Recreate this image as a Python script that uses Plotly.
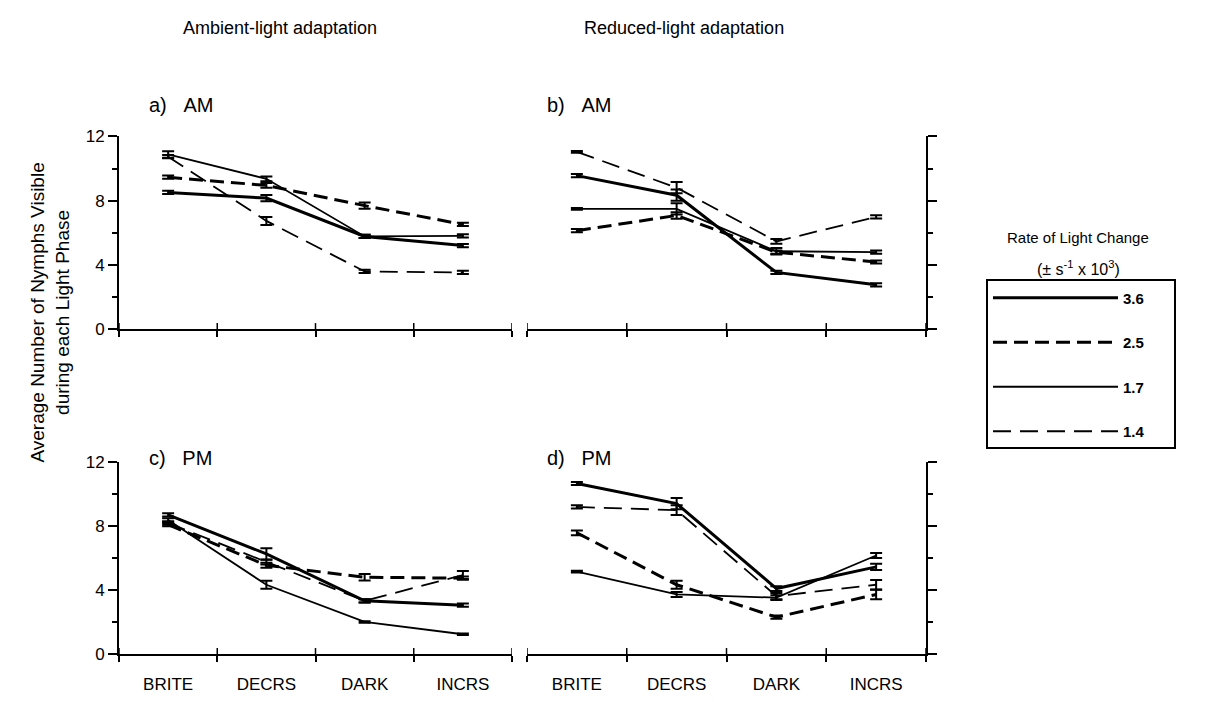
import plotly.graph_objects as go

W, H = 1205, 702
FONT = "Liberation Sans, Arial, Helvetica, sans-serif"

phases = ["BRITE", "DECRS", "DARK", "INCRS"]
rates = ["3.6", "2.5", "1.7", "1.4"]

# panel a) ambient-light, AM
a_36 = [8.51, 8.16, 5.77, 5.20]
a_25 = [9.46, 8.95, 7.69, 6.52]
a_17 = [10.88, 9.36, 5.77, 5.81]
a_14 = [10.74, 6.74, 3.59, 3.53]
a_36_err = [0.10, 0.20, 0.10, 0.10]
a_25_err = [0.10, 0.15, 0.20, 0.10]
a_17_err = [0.20, 0.15, 0.10, 0.10]
a_14_err = [0.10, 0.25, 0.10, 0.10]

# panel b) reduced-light, AM
b_36 = [9.56, 8.34, 3.53, 2.76]
b_25 = [6.13, 7.08, 4.79, 4.18]
b_17 = [7.49, 7.49, 4.85, 4.79]
b_14 = [11.04, 8.81, 5.46, 6.99]
b_36_err = [0.10, 0.35, 0.10, 0.10]
b_25_err = [0.10, 0.20, 0.10, 0.10]
b_17_err = [0.05, 0.35, 0.20, 0.10]
b_14_err = [0.05, 0.35, 0.15, 0.10]

# panel c) ambient-light, PM
c_36 = [8.71, 6.27, 3.33, 3.06]
c_25 = [8.10, 5.56, 4.81, 4.75]
c_17 = [8.40, 4.34, 2.01, 1.24]
c_14 = [8.20, 5.75, 3.33, 4.95]
c_36_err = [0.10, 0.35, 0.10, 0.10]
c_25_err = [0.10, 0.15, 0.20, 0.10]
c_17_err = [0.10, 0.25, 0.05, 0.05]
c_14_err = [0.10, 0.15, 0.10, 0.25]

# panel d) reduced-light, PM
d_36 = [10.68, 9.42, 4.10, 5.46]
d_25 = [7.59, 4.34, 2.31, 3.73]
d_17 = [5.16, 3.73, 3.53, 6.17]
d_14 = [9.21, 9.01, 3.63, 4.34]
d_36_err = [0.10, 0.35, 0.15, 0.20]
d_25_err = [0.15, 0.25, 0.10, 0.30]
d_17_err = [0.05, 0.15, 0.15, 0.15]
d_14_err = [0.10, 0.30, 0.20, 0.30]

panels = [
    ("a)", "AM", [a_36, a_25, a_17, a_14], [a_36_err, a_25_err, a_17_err, a_14_err]),
    ("b)", "AM", [b_36, b_25, b_17, b_14], [b_36_err, b_25_err, b_17_err, b_14_err]),
    ("c)", "PM", [c_36, c_25, c_17, c_14], [c_36_err, c_25_err, c_17_err, c_14_err]),
    ("d)", "PM", [d_36, d_25, d_17, d_14], [d_36_err, d_25_err, d_17_err, d_14_err]),
]

line_styles = {
    "3.6": dict(width=3.0, dash="solid"),
    "2.5": dict(width=3.0, dash="14px,7px"),
    "1.7": dict(width=1.8, dash="solid"),
    "1.4": dict(width=1.8, dash="18px,9px"),
}

fig = go.Figure()
axis_ids = ["", "2", "3", "4"]
for pi, (lab, tod, series, errs) in enumerate(panels):
    ax = axis_ids[pi]
    for ri, rate in enumerate(rates):
        fig.add_trace(go.Scatter(
            x=phases, y=series[ri],
            xaxis="x" + ax, yaxis="y" + ax,
            mode="lines",
            line=dict(color="black", **line_styles[rate]),
            error_y=dict(type="data", array=errs[ri], visible=True,
                         color="black", thickness=2, width=6),
            name="<b>" + rate + "</b>&nbsp;&nbsp;&nbsp;&nbsp;&nbsp;&nbsp;",
            legendgroup=rate,
            showlegend=(pi == 0),
            hoverinfo="skip",
        ))

# geometry (pixels)
xl = [119, 512]
xr = [527, 926]
yt = [131, 329]
yb = [466, 663]


def px_x(p):
    return p / W


def px_y(p):
    return 1 - p / H


def xaxis_cfg(dom, anchor, labels):
    return dict(domain=[px_x(dom[0]), px_x(dom[1])], anchor=anchor,
                type="category", range=[-0.5, 3.5],
                showline=True, linecolor="black", linewidth=2,
                ticks="outside", tickson="boundaries", ticklen=6,
                tickwidth=1.5, tickcolor="black",
                showgrid=False, zeroline=False,
                showticklabels=labels, ticklabelstandoff=14,
                tickfont=dict(family=FONT, size=17, color="black"))


def yaxis_cfg(dom, anchor, side, labels):
    return dict(domain=[px_y(dom[1]), px_y(dom[0])], anchor=anchor,
                range=[0, 12], side=side,
                showline=True, linecolor="black", linewidth=2,
                ticks="outside", ticklen=9, tickwidth=1.5, tickcolor="black",
                tickvals=[0, 4, 8, 12],
                minor=dict(ticks="outside", ticklen=5, tickwidth=1.5,
                           tickcolor="black", dtick=2, tick0=0, showgrid=False),
                showgrid=False, zeroline=False,
                showticklabels=labels,
                tickfont=dict(family=FONT, size=17, color="black"))


fig.update_layout(
    xaxis=xaxis_cfg(xl, "y", False),
    yaxis=yaxis_cfg(yt, "x", "left", True),
    xaxis2=xaxis_cfg(xr, "y2", False),
    yaxis2=yaxis_cfg(yt, "x2", "right", False),
    xaxis3=xaxis_cfg(xl, "y3", True),
    yaxis3=yaxis_cfg(yb, "x3", "left", True),
    xaxis4=xaxis_cfg(xr, "y4", True),
    yaxis4=yaxis_cfg(yb, "x4", "right", False),
)

# inward half of the crossing x ticks
shapes = []
for ax in axis_ids:
    for k in range(len(phases) + 1):
        shapes.append(dict(type="line", xref="x" + ax, yref="y" + ax,
                           ysizemode="pixel", yanchor=0, y0=0, y1=6,
                           x0=k - 0.5, x1=k - 0.5,
                           line=dict(color="black", width=1.5)))

annotations = []
tf = dict(family=FONT, size=18, color="black")


def ann(text, x, y, font, **kw):
    d = dict(text=text, x=px_x(x), y=px_y(y), xref="paper", yref="paper",
             showarrow=False, xanchor="center", yanchor="middle", font=font)
    d.update(kw)
    annotations.append(d)


ann("Ambient-light adaptation", 280, 20, tf)
ann("Reduced-light adaptation", 684, 20, tf)
pf = dict(family=FONT, size=20, color="black")
for (lab, tod, _, _), (px, py) in zip(panels, [(147, 99), (545, 99), (147, 462), (545, 462)]):
    ann(lab + "&nbsp;&nbsp;&nbsp;" + tod, px, py, pf, xanchor="left")
ann("Average Number of Nymphs Visible<br>during each Light Phase", 50, 312,
    dict(family=FONT, size=19, color="black"), textangle=-90)
lf = dict(family=FONT, size=15, color="black")
ann("Rate of Light Change", 1078, 235, lf)
ann("(± s<sup>-1</sup> x 10<sup>3</sup>)", 1078, 266, dict(family=FONT, size=16, color="black"))

fig.update_layout(
    width=W, height=H,
    margin=dict(l=0, r=0, t=0, b=0),
    paper_bgcolor="white", plot_bgcolor="white",
    shapes=shapes,
    annotations=annotations,
    legend=dict(x=px_x(986), y=px_y(278), xanchor="left", yanchor="top",
                bordercolor="black", borderwidth=2, bgcolor="white",
                itemwidth=125, tracegroupgap=22,
                font=dict(family=FONT, size=15, color="black"),
                itemclick=False, itemdoubleclick=False),
)

fig.write_html("out.html")
